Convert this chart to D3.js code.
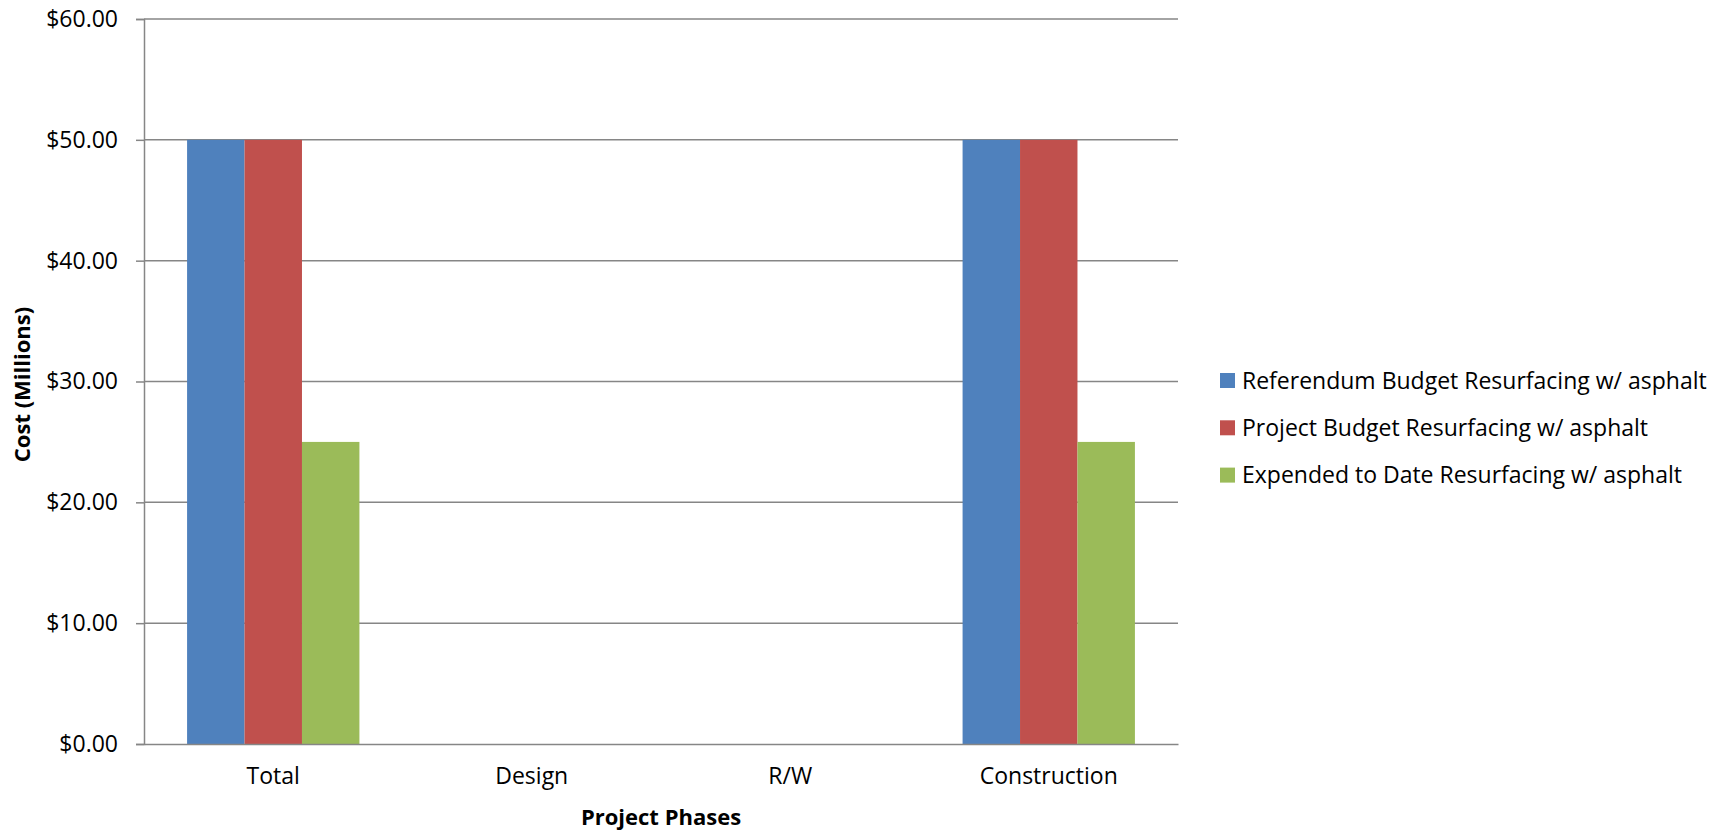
<!DOCTYPE html>
<html>
<head>
<meta charset="utf-8">
<script src="https://cdn.jsdelivr.net/npm/d3@7"></script>
<style>
  html, body { margin: 0; padding: 0; background: #fff; }
  svg { display: block; }
  text { font-family: "Open Sans", Lato, sans-serif; fill: #000; }
</style>
</head>
<body>
<svg id="chart" width="1724" height="833"></svg>
<script>
const categories = ["Total", "Design", "R/W", "Construction"];
const seriesNames = [
  "Referendum Budget Resurfacing w/ asphalt",
  "Project Budget Resurfacing w/ asphalt",
  "Expended to Date Resurfacing w/ asphalt"
];
const referendumBudget = [50, 0, 0, 50];
const projectBudget = [50, 0, 0, 50];
const expendedToDate = [25, 0, 0, 25];
const yTicks = [0, 10, 20, 30, 40, 50, 60];
const colors = ["#4F81BD", "#C0504D", "#9BBB59"];

const seriesValues = [referendumBudget, projectBudget, expendedToDate];

const svg = d3.select("#chart");
const plotLeft = 144, plotRight = 1178, plotTop = 19, plotBottom = 744;
const fontSize = 23;
const fontFamily = "'Open Sans', Lato, sans-serif";

const x = d3.scaleBand().domain(categories).range([plotLeft, plotRight]).paddingInner(0).paddingOuter(0);
const barGroupWidth = x.bandwidth() / 1.5;
const xSeries = d3.scaleBand().domain(d3.range(seriesNames.length))
  .range([0, barGroupWidth]);
const y = d3.scaleLinear().domain([0, 60]).range([plotBottom, plotTop]);

// gridlines
svg.append("g")
  .selectAll("line")
  .data(yTicks.filter(d => d > 0))
  .join("line")
  .attr("x1", plotLeft).attr("x2", plotRight)
  .attr("y1", d => y(d)).attr("y2", d => y(d))
  .attr("stroke", "#868686").attr("stroke-width", 1.5);

// bars
const groups = svg.append("g").selectAll("g")
  .data(categories)
  .join("g")
  .attr("transform", d => `translate(${x(d) + (x.bandwidth() - barGroupWidth) / 2},0)`);

groups.selectAll("rect")
  .data((c, i) => seriesValues.map((vals, s) => ({ s, v: vals[i] })))
  .join("rect")
  .attr("x", d => xSeries(d.s))
  .attr("width", xSeries.bandwidth())
  .attr("y", d => y(d.v))
  .attr("height", d => y(0) - y(d.v))
  .attr("fill", d => colors[d.s]);

// y axis
const yAxis = d3.axisLeft(y).tickValues(yTicks).tickSize(8).tickPadding(18)
  .tickFormat(d => "$" + d3.format(".2f")(d));
const yg = svg.append("g").attr("transform", `translate(${plotLeft},0)`).call(yAxis);
yg.select(".domain").attr("stroke", "#868686").attr("stroke-width", 1.5);
yg.selectAll(".tick line").attr("stroke", "#868686").attr("stroke-width", 1.5);
yg.selectAll(".tick text").style("font-size", fontSize + "px").attr("font-family", fontFamily).attr("fill", "#000");

// x axis
const xAxis = d3.axisBottom(x).tickSize(0).tickPadding(24);
const xg = svg.append("g").attr("transform", `translate(0,${plotBottom})`).call(xAxis);
xg.select(".domain").attr("stroke", "#868686").attr("stroke-width", 1.5);
xg.selectAll(".tick text").style("font-size", fontSize + "px").attr("font-family", fontFamily).attr("fill", "#000");

// axis titles
svg.append("text")
  .attr("transform", `translate(30,${(plotTop + plotBottom) / 2 + 3}) rotate(-90)`)
  .attr("text-anchor", "middle")
  .style("font-size", (fontSize - 1) + "px").style("font-weight", "bold")
  .text("Cost (Millions)");

svg.append("text")
  .attr("x", (plotLeft + plotRight) / 2).attr("y", 825)
  .attr("text-anchor", "middle")
  .style("font-size", (fontSize - 1) + "px").style("font-weight", "bold")
  .text("Project Phases");

// legend
const legend = svg.append("g").attr("transform", "translate(1220,380.5)");
const li = legend.selectAll("g").data(seriesNames).join("g")
  .attr("transform", (d, i) => `translate(0,${i * 47.3})`);
li.append("rect").attr("x", 0).attr("y", -7.5).attr("width", 15).attr("height", 15)
  .attr("fill", (d, i) => colors[i]);
li.append("text").attr("x", 22).attr("y", 0).attr("dy", "0.35em")
  .style("font-size", fontSize + "px")
  .text(d => d);
</script>
</body>
</html>
